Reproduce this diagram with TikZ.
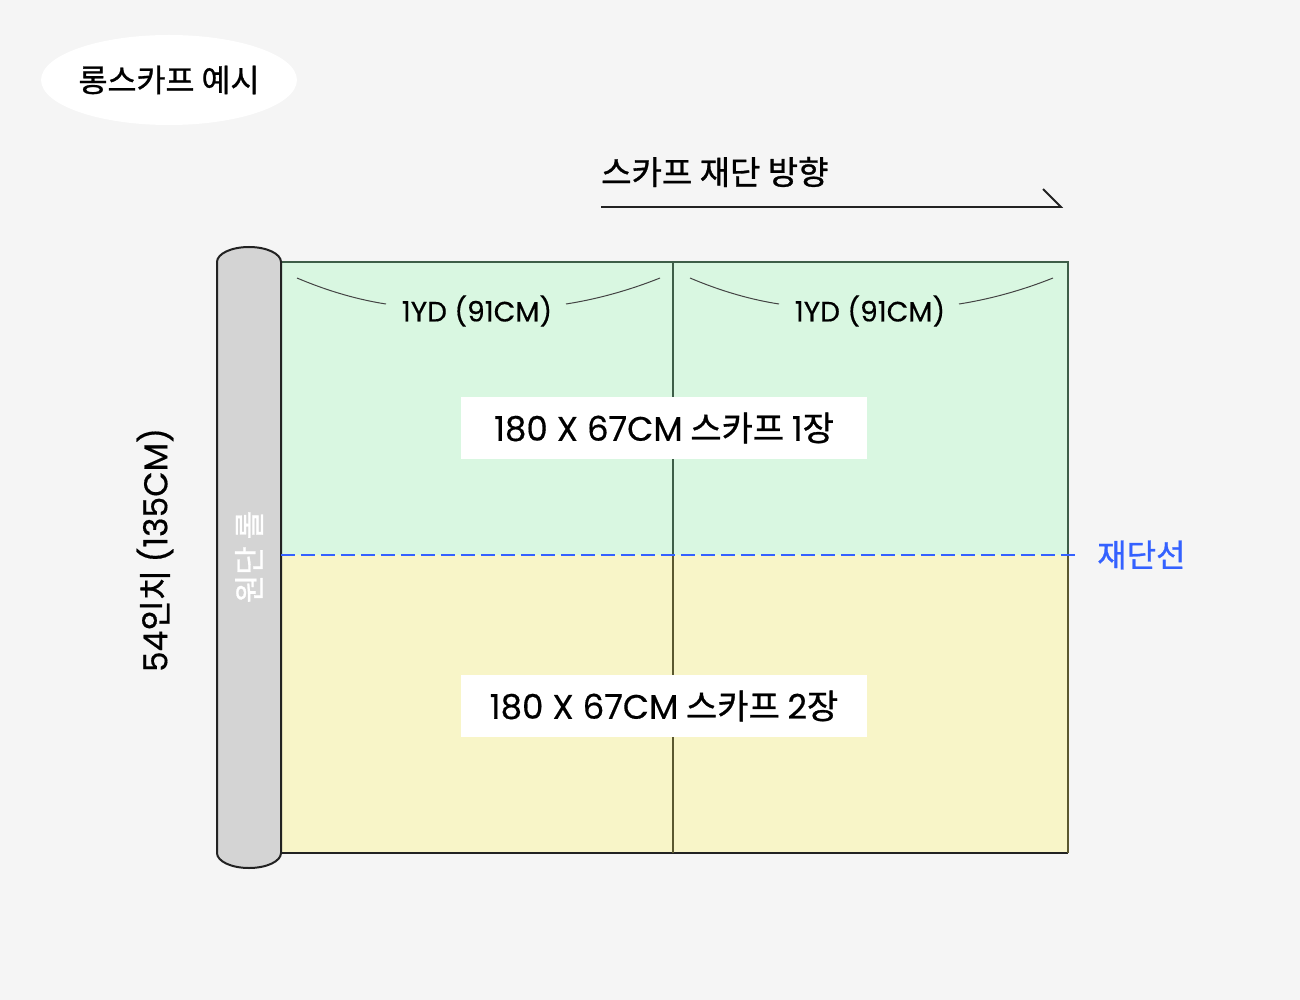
\documentclass[tikz,border=0pt]{standalone}
\usepackage{fontspec}
\setmainfont{Noto Sans CJK KR}[FakeBold=0.9]
\newfontfamily\lat{Poppins}[FakeBold=0.4]
\usetikzlibrary{shapes.geometric}

\definecolor{bgcol}{HTML}{F5F5F5}
\definecolor{mint}{HTML}{D9F7E1}
\definecolor{cream}{HTML}{F8F5C8}
\definecolor{rollgray}{HTML}{D4D4D4}
\definecolor{pine}{HTML}{3E5E48}
\definecolor{olive}{HTML}{5B5830}
\definecolor{cutblue}{HTML}{3461FF}
\definecolor{ink}{HTML}{222222}

\tikzset{
  sizebox/.style={fill=white, minimum width=406, minimum height=62, inner sep=0, font=\fontsize{34}{34}\selectfont},
  ydlabel/.style={inner sep=0, font=\lat\fontsize{28}{28}\selectfont},
  ydarc/.style={draw=ink!85, line width=1},
}

\begin{document}
\begin{tikzpicture}[x=1pt,y=-1pt]
\useasboundingbox (0,0) rectangle (1300,1000);
\fill[bgcol] (0,0) rectangle (1300,1000);

% title
\node[ellipse, fill=white, minimum width=252, minimum height=90, inner sep=0, font=\fontsize{31.5}{31.5}\selectfont] (title) at (169,80) {롱스카프 예시};

% cut direction
\node[anchor=west, inner sep=0, font=\fontsize{33}{33}\selectfont] (dirlabel) at (601,172) {스카프 재단 방향};
\coordinate (dirA) at (601,207);
\coordinate (dirB) at (1061,207);
\draw[ink, line width=1.8] (dirA) -- (dirB) -- ++(-18,-18);

% fabric
\fill[mint] (281,262) rectangle (1068,555);
\fill[cream] (281,555) rectangle (1068,853);
\draw[pine, line width=2] (281,555) -- (281,262) -- (1068,262) -- (1068,555);
\draw[ink, line width=2] (281,555) -- (281,853) -- (1068,853);
\draw[olive, line width=2] (1068,555) -- (1068,853);
\draw[pine, line width=1.5] (673,262) -- (673,555);
\draw[olive, line width=1.5] (673,555) -- (673,853);

% roll
\draw[ink, line width=2, fill=rollgray] (217,262) arc[start angle=180, end angle=360, x radius=32, y radius=15] -- (281,853) arc[start angle=0, end angle=180, x radius=32, y radius=15] -- cycle;
\node[rotate=90, text=white, inner sep=0, font=\fontsize{31}{31}\selectfont] (rolllabel) at (249,557) {원단 롤};

% width marks
\node[ydlabel] (ydleft) at (477,311) {1YD (91CM)};
\node[ydlabel] (ydright) at (870,311) {1YD (91CM)};
\coordinate (la1) at (297,278); \coordinate (la2) at (386,304);
\coordinate (la3) at (566,304); \coordinate (la4) at (660,278);
\coordinate (ra1) at (690,278); \coordinate (ra2) at (779,304);
\coordinate (ra3) at (959,304); \coordinate (ra4) at (1053,278);
\draw[ydarc] (la1) .. controls (330,292) and (360,300) .. (la2);
\draw[ydarc] (la3) .. controls (592,300) and (625,292) .. (la4);
\draw[ydarc] (ra1) .. controls (723,292) and (753,300) .. (ra2);
\draw[ydarc] (ra3) .. controls (985,300) and (1018,292) .. (ra4);

% pieces
\node[sizebox] (upper) at (664,428) {{\lat 180 X 67CM} 스카프 {\lat 1}장};
\node[sizebox] (lower) at (664,706) {{\lat 180 X 67CM} 스카프 {\lat 2}장};

% cut line
\node[anchor=west, inner sep=0, text=cutblue, font=\fontsize{32}{32}\selectfont] (cutlabel) at (1097,555) {재단선};
\coordinate (cutA) at (281,555);
\draw[cutblue, line width=2.8, dash pattern=on 14pt off 6pt] (cutA) -- ([xshift=-17]cutlabel.west);

% height
\node[rotate=90, inner sep=0, font=\fontsize{33}{33}\selectfont] (height) at (155,550) {{\lat 54}인치 {\lat (135CM)}};

\end{tikzpicture}
\end{document}
